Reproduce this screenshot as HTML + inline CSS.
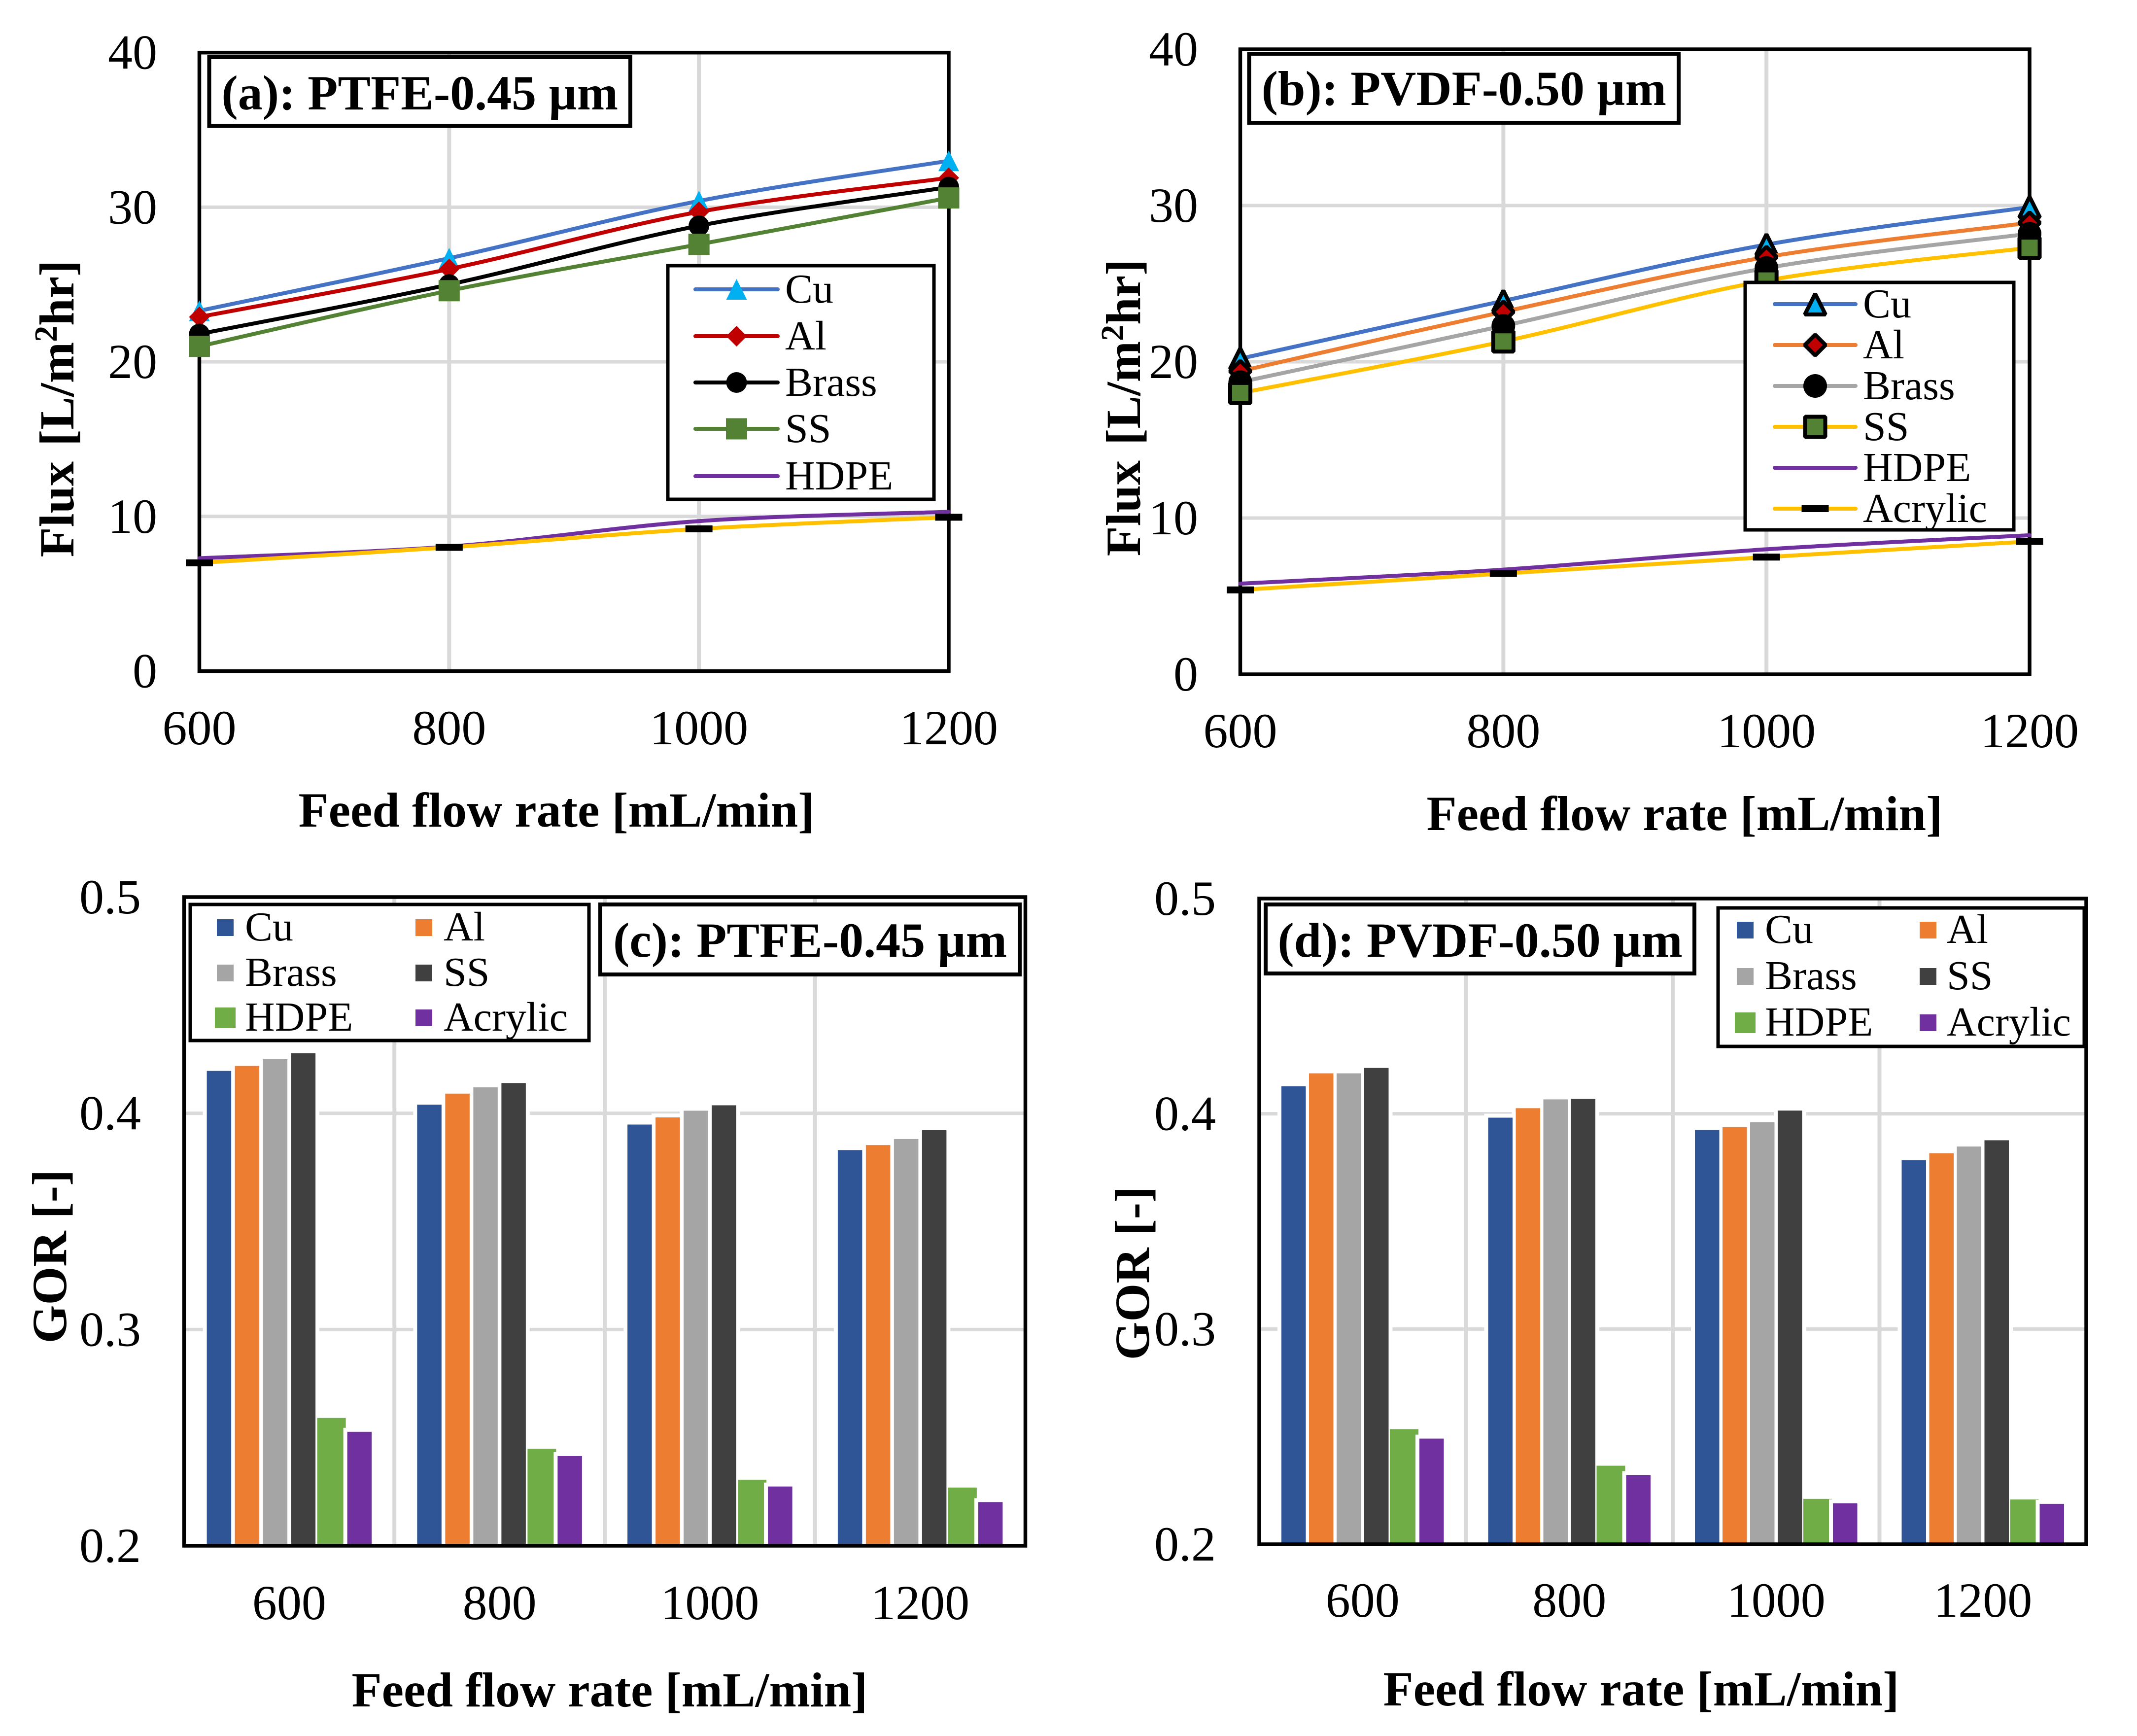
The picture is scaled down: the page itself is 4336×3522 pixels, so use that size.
<!DOCTYPE html>
<html lang="en">
<head>
<meta charset="utf-8">
<title>Flux and GOR versus feed flow rate</title>
<style>
html,body{margin:0;padding:0;background:#fff;}
svg{display:block;}
text{font-family:"Liberation Serif",serif;fill:#000;}
</style>
</head>
<body>
<svg id="figure" xmlns="http://www.w3.org/2000/svg" width="4336" height="3522" viewBox="0 0 4336 3522">
  <rect x="0" y="0" width="4336" height="3522" fill="#ffffff"></rect>
  <g id="panel-a"></g>
  <g id="panel-b"></g>
  <g id="panel-c"></g>
  <g id="panel-d"></g>
</svg>
<script>
// ---------- chart data ----------
const flowCategories = ['600', '800', '1000', '1200'];
const fluxTicks = ['0', '10', '20', '30', '40'];
const gorTicks = ['0.2', '0.3', '0.4', '0.5'];
const materialNames = ['Cu', 'Al', 'Brass', 'SS', 'HDPE', 'Acrylic'];

const fluxA_Cu = [23.3, 26.7, 30.4, 33.0];
const fluxA_Al = [22.9, 26.0, 29.7, 31.9];
const fluxA_Brass = [21.8, 25.0, 28.8, 31.3];
const fluxA_SS = [21.0, 24.6, 27.6, 30.6];
const fluxA_HDPE = [7.3, 8.05, 9.7, 10.3];
const fluxA_Acrylic = [7.0, 8.0, 9.2, 9.95];

const fluxB_Cu = [20.2, 23.9, 27.5, 29.9];
const fluxB_Al = [19.4, 23.2, 26.7, 28.9];
const fluxB_Brass = [18.7, 22.3, 26.0, 28.2];
const fluxB_SS = [18.0, 21.3, 25.2, 27.3];
const fluxB_HDPE = [5.8, 6.7, 8.0, 8.9];
const fluxB_Acrylic = [5.4, 6.45, 7.5, 8.5];

const gorC_Cu = [0.4196, 0.404, 0.3948, 0.383];
const gorC_Al = [0.4219, 0.4091, 0.3981, 0.3853];
const gorC_Brass = [0.425, 0.412, 0.4012, 0.3881];
const gorC_SS = [0.4278, 0.414, 0.4037, 0.3922];
const gorC_HDPE = [0.2591, 0.2448, 0.2305, 0.2269];
const gorC_Acrylic = [0.2527, 0.2415, 0.2274, 0.2202];

const gorD_Cu = [0.4128, 0.3982, 0.3925, 0.3784];
const gorD_Al = [0.4188, 0.4026, 0.3938, 0.3817];
const gorD_Brass = [0.4188, 0.4067, 0.3961, 0.3848];
const gorD_SS = [0.4213, 0.4069, 0.4015, 0.3877];
const gorD_HDPE = [0.2535, 0.2365, 0.2211, 0.2208];
const gorD_Acrylic = [0.2491, 0.2321, 0.219, 0.2188];

const fluxSeriesA = [fluxA_Cu, fluxA_Al, fluxA_Brass, fluxA_SS, fluxA_HDPE, fluxA_Acrylic];
const fluxSeriesB = [fluxB_Cu, fluxB_Al, fluxB_Brass, fluxB_SS, fluxB_HDPE, fluxB_Acrylic];
const gorSeriesC = [gorC_Cu, gorC_Al, gorC_Brass, gorC_SS, gorC_HDPE, gorC_Acrylic];
const gorSeriesD = [gorD_Cu, gorD_Al, gorD_Brass, gorD_SS, gorD_HDPE, gorD_Acrylic];

// ---------- styling ----------
const SVGNS = 'http://www.w3.org/2000/svg';
const markerKinds = ['triangle', 'diamond', 'circle', 'square', 'none', 'dash'];
const barColors = ['#2f5597', '#ed7d31', '#a5a5a5', '#404040', '#70ad47', '#7030a0'];
const GRID = '#d9d9d9';

function mk(tag, attrs, parent) {
  const node = document.createElementNS(SVGNS, tag);
  for (const key in attrs) node.setAttribute(key, attrs[key]);
  parent.appendChild(node);
  return node;
}

function drawText(str, x, y, size, weight, anchor, parent, name, rotate) {
  const attrs = { x: x, y: y, 'font-size': size, 'font-weight': weight, 'text-anchor': anchor };
  if (rotate) attrs.transform = 'rotate(-90 ' + x + ' ' + y + ')';
  const t = mk('text', attrs, parent);
  t.textContent = str;
  
  
  return t;
}

function drawFluxTitle(x, y, parent) {
  const t = drawText('Flux [L/m', x, y, 100, 'bold', 'middle', parent, 'y-axis-title', true);
  t.setAttribute('word-spacing', '6');
  const sup = mk('tspan', { dy: -34, 'font-size': 66 }, t);
  sup.textContent = '2';
  const tail = mk('tspan', { dy: 34 }, t);
  tail.textContent = 'hr]';
}

function drawBox(x1, y1, x2, y2, sw, fill, parent, name) {
  const r = mk('rect', { x: x1, y: y1, width: x2 - x1, height: y2 - y1, fill: fill, stroke: '#000', 'stroke-width': sw }, parent);
  
  
  return r;
}

function drawGrid(x1, y1, x2, y2, sw, parent, name) {
  const l = mk('line', { x1: x1, y1: y1, x2: x2, y2: y2, stroke: GRID, 'stroke-width': sw }, parent);
  
  
}

function drawMarker(kind, cx, cy, fill, outlined, parent, name) {
  if (kind === 'none') return;
  const s = outlined ? { 'stroke': '#000', 'stroke-width': 8, 'stroke-linejoin': 'bevel' } : {};
  let node;
  if (kind === 'triangle') {
    node = mk('polygon', Object.assign({ points: cx + ',' + (cy - 21) + ' ' + (cx + 21) + ',' + (cy + 21) + ' ' + (cx - 21) + ',' + (cy + 21), fill: fill }, s), parent);
  } else if (kind === 'diamond') {
    node = mk('polygon', Object.assign({ points: cx + ',' + (cy - 21) + ' ' + (cx + 21) + ',' + cy + ' ' + cx + ',' + (cy + 21) + ' ' + (cx - 21) + ',' + cy, fill: fill }, s), parent);
  } else if (kind === 'circle') {
    node = mk('circle', { cx: cx, cy: cy, r: outlined ? 24 : 21, fill: '#000' }, parent);
  } else if (kind === 'square') {
    const h = outlined ? 20.5 : 21.5;
    node = mk('rect', Object.assign({ x: cx - h, y: cy - h, width: 2 * h, height: 2 * h, fill: fill }, s), parent);
  } else {
    node = mk('rect', { x: cx - 27.5, y: cy - 7, width: 55, height: 14, fill: '#000' }, parent);
  }
  
  
}

function smoothPath(pts) {
  let d = 'M' + pts[0][0] + ' ' + pts[0][1];
  for (let i = 0; i < pts.length - 1; i++) {
    const p0 = pts[Math.max(0, i - 1)], p1 = pts[i], p2 = pts[i + 1], p3 = pts[Math.min(pts.length - 1, i + 2)];
    const c1x = p1[0] + (p2[0] - p0[0]) / 6, c1y = p1[1] + (p2[1] - p0[1]) / 6;
    const c2x = p2[0] - (p3[0] - p1[0]) / 6, c2y = p2[1] - (p3[1] - p1[1]) / 6;
    d += ' C' + c1x + ' ' + c1y + ' ' + c2x + ' ' + c2y + ' ' + p2[0] + ' ' + p2[1];
  }
  return d;
}

// ---------- line charts ----------
function drawLineChart(cfg) {
  const root = document.getElementById(cfg.id);
  const yMin = Number(fluxTicks[0]), yMax = Number(fluxTicks[fluxTicks.length - 1]);
  const xScale = i => cfg.L + i * (cfg.R - cfg.L) / (flowCategories.length - 1);
  const yScale = v => cfg.B - (v - yMin) / (yMax - yMin) * (cfg.B - cfg.T);

  flowCategories.forEach((c, i) => {
    if (i > 0 && i < flowCategories.length - 1) drawGrid(xScale(i), cfg.T, xScale(i), cfg.B, 8, root, 'vertical-gridline-' + c);
    drawText(c, xScale(i), cfg.xLabelBase, 100, 'normal', 'middle', root, 'x-tick-label-' + c);
  });
  fluxTicks.forEach(t => {
    const v = Number(t);
    if (v !== yMin && v !== yMax) drawGrid(cfg.L, yScale(v), cfg.R, yScale(v), 7, root, 'horizontal-gridline-' + t);
    drawText(t, cfg.yLabelX, yScale(v) + 33, 100, 'normal', 'end', root, 'y-tick-label-' + t);
  });
  drawBox(cfg.L, cfg.T, cfg.R, cfg.B, 7.5, 'none', root, 'plot-frame');

  cfg.series.forEach((vals, s) => {
    const pts = vals.map((v, i) => [xScale(i), yScale(v)]);
    const path = mk('path', { d: smoothPath(pts), fill: 'none', stroke: cfg.lineColors[s], 'stroke-width': 8, 'stroke-linecap': 'round' }, root);
    
    
    pts.forEach((p, i) => {
      drawMarker(markerKinds[s], p[0], p[1], cfg.markerColors[s], cfg.outlined, root, 'point-' + materialNames[s].toLowerCase() + '-' + flowCategories[i]);
    });
  });

  drawBox(cfg.tb[0], cfg.tb[1], cfg.tb[2], cfg.tb[3], 8, '#fff', root, 'panel-label-box');
  drawText(cfg.title, (cfg.tb[0] + cfg.tb[2]) / 2, cfg.titleBase, 100, 'bold', 'middle', root, 'panel-label');

  const lg = mk('g', {}, root);
  
  
  drawBox(cfg.lb[0], cfg.lb[1], cfg.lb[2], cfg.lb[3], 7, '#fff', lg, 'legend-box');
  cfg.legendRows.forEach((y, s) => {
    const name = materialNames[s];
    const l = mk('line', { x1: cfg.lx[0], y1: y, x2: cfg.lx[1], y2: y, stroke: cfg.lineColors[s], 'stroke-width': 8, 'stroke-linecap': 'round' }, lg);
    
    
    drawMarker(markerKinds[s], (cfg.lx[0] + cfg.lx[1]) / 2, y, cfg.markerColors[s], cfg.outlined, lg, 'legend-marker-' + name.toLowerCase());
    drawText(name, cfg.lx[2], y + 27, 84, 'normal', 'start', lg, 'legend-entry-' + name.toLowerCase());
  });

  drawText('Feed flow rate [mL/min]', cfg.xTitle[0], cfg.xTitle[1], 100, 'bold', 'middle', root, 'x-axis-title');
  drawFluxTitle(cfg.yTitle[0], cfg.yTitle[1], root);
}

// ---------- bar charts ----------
function drawBarChart(cfg) {
  const root = document.getElementById(cfg.id);
  const yMin = Number(gorTicks[0]), yMax = Number(gorTicks[gorTicks.length - 1]);
  const n = flowCategories.length;
  const step = (cfg.R - cfg.L) / n;
  const xCenter = i => cfg.L + (i + 0.5) * step;
  const yScale = v => cfg.B - (v - yMin) / (yMax - yMin) * (cfg.B - cfg.T);

  for (let i = 1; i < n; i++) {
    drawGrid(cfg.L + i * step, cfg.T, cfg.L + i * step, cfg.B, 8, root, 'vertical-gridline-' + i);
  }
  gorTicks.forEach(t => {
    const v = Number(t);
    if (v !== yMin && v !== yMax) drawGrid(cfg.L, yScale(v), cfg.R, yScale(v), 7, root, 'horizontal-gridline-' + t);
    drawText(t, cfg.yLabelX, yScale(v) + 33, 100, 'normal', 'end', root, 'y-tick-label-' + t);
  });
  flowCategories.forEach((c, i) => {
    drawText(c, xCenter(i), cfg.xLabelBase, 100, 'normal', 'middle', root, 'x-tick-label-' + c);
  });

  const barWidth = 49.5;
  const offset = s => (s - 2.5) * cfg.pitch;
  // white halo behind all bars (interrupts the gridlines)
  cfg.series.forEach((vals, s) => {
    vals.forEach((v, i) => {
      const x = xCenter(i) + offset(s) - barWidth / 2;
      const halo = mk('rect', { x: x - 8, y: yScale(v) - 8, width: barWidth + 16, height: cfg.B - yScale(v) + 8, fill: '#fff' }, root);
      
      
    });
  });
  cfg.series.forEach((vals, s) => {
    const name = materialNames[s].toLowerCase();
    vals.forEach((v, i) => {
      const x = xCenter(i) + offset(s) - barWidth / 2;
      if (s === 5) {
        const halo = mk('rect', { x: x - 8, y: yScale(v) - 8, width: 8, height: cfg.B - yScale(v) + 8, fill: '#fff' }, root);
        
        
      }
      const wide = s === 4;
      const bar = mk('rect', { x: wide ? x - 4 : x, y: yScale(v), width: wide ? barWidth + 8.5 : barWidth, height: cfg.B - yScale(v), fill: barColors[s] }, root);
      
      
    });
  });
  drawBox(cfg.L, cfg.T, cfg.R, cfg.B, 7.5, 'none', root, 'plot-frame');

  drawBox(cfg.tb[0], cfg.tb[1], cfg.tb[2], cfg.tb[3], 8, '#fff', root, 'panel-label-box');
  drawText(cfg.title, (cfg.tb[0] + cfg.tb[2]) / 2, cfg.titleBase, 100, 'bold', 'middle', root, 'panel-label');

  const lg = mk('g', {}, root);
  
  
  drawBox(cfg.lb[0], cfg.lb[1], cfg.lb[2], cfg.lb[3], 7, '#fff', lg, 'legend-box');
  materialNames.forEach((name, s) => {
    const col = s % 2, row = Math.floor(s / 2);
    const y = cfg.legendRows[row];
    const size = s === 4 ? 42 : 34;
    const sw = mk('rect', { x: cfg.swatchX[col] - size / 2, y: y - size / 2, width: size, height: size, fill: barColors[s] }, lg);
    
    
    drawText(name, cfg.textX[col], y + 26, 84, 'normal', 'start', lg, 'legend-entry-' + name.toLowerCase());
  });

  drawText('Feed flow rate [mL/min]', cfg.xTitle[0], cfg.xTitle[1], 100, 'bold', 'middle', root, 'x-axis-title');
  drawText('GOR [-]', cfg.yTitle[0], cfg.yTitle[1], 100, 'bold', 'middle', root, 'y-axis-title', true);
}

drawLineChart({
  id: 'panel-a', series: fluxSeriesA, L: 404.5, R: 1925, T: 106.7, B: 1361.5,
  lineColors: ['#4472c4', '#c00000', '#000000', '#548235', '#7030a0', '#ffc000'],
  markerColors: ['#00b0f0', '#c00000', '#000000', '#548235', '#7030a0', '#000000'],
  outlined: false,
  xLabelBase: 1510, yLabelX: 319,
  tb: [424.5, 116, 1279, 255.7], title: '(a): PTFE-0.45 µm', titleBase: 222,
  lb: [1355, 539, 1895, 1013], legendRows: [587, 682, 776, 870, 966], lx: [1411, 1578, 1593],
  xTitle: [1129, 1677], yTitle: [149, 829]
});

drawLineChart({
  id: 'panel-b', series: fluxSeriesB, L: 2516.5, R: 4118, T: 100, B: 1368,
  lineColors: ['#4472c4', '#ed7d31', '#a5a5a5', '#ffc000', '#7030a0', '#ffc000'],
  markerColors: ['#00b0f0', '#c00000', '#000000', '#548235', '#7030a0', '#000000'],
  outlined: true,
  xLabelBase: 1516, yLabelX: 2431,
  tb: [2534.5, 109, 3406, 249], title: '(b): PVDF-0.50 µm', titleBase: 213,
  lb: [3541, 573, 4086, 1075], legendRows: [617, 700, 783, 866, 949, 1032], lx: [3601, 3765, 3780],
  xTitle: [3418, 1684], yTitle: [2313, 827]
});

drawBarChart({
  id: 'panel-c', series: gorSeriesC, L: 373.5, R: 2080.5, T: 1820, B: 3136, pitch: 57,
  xLabelBase: 3285, yLabelX: 286,
  tb: [1218, 1835, 2069, 1977], title: '(c): PTFE-0.45 µm', titleBase: 1941,
  lb: [386, 1835, 1195, 2111], legendRows: [1882, 1974, 2065], swatchX: [457, 860], textX: [497, 900],
  xTitle: [1237, 3462], yTitle: [134, 2549]
});

drawBarChart({
  id: 'panel-d', series: gorSeriesD, L: 2555, R: 4233, T: 1823, B: 3133, pitch: 56,
  xLabelBase: 3280, yLabelX: 2467,
  tb: [2568, 1835, 3438, 1975], title: '(d): PVDF-0.50 µm', titleBase: 1941,
  lb: [3486, 1842, 4229, 2123], legendRows: [1887, 1981, 2075], swatchX: [3541, 3912], textX: [3581, 3950],
  xTitle: [3330, 3460], yTitle: [2331, 2583]
});
</script>
</body>
</html>
